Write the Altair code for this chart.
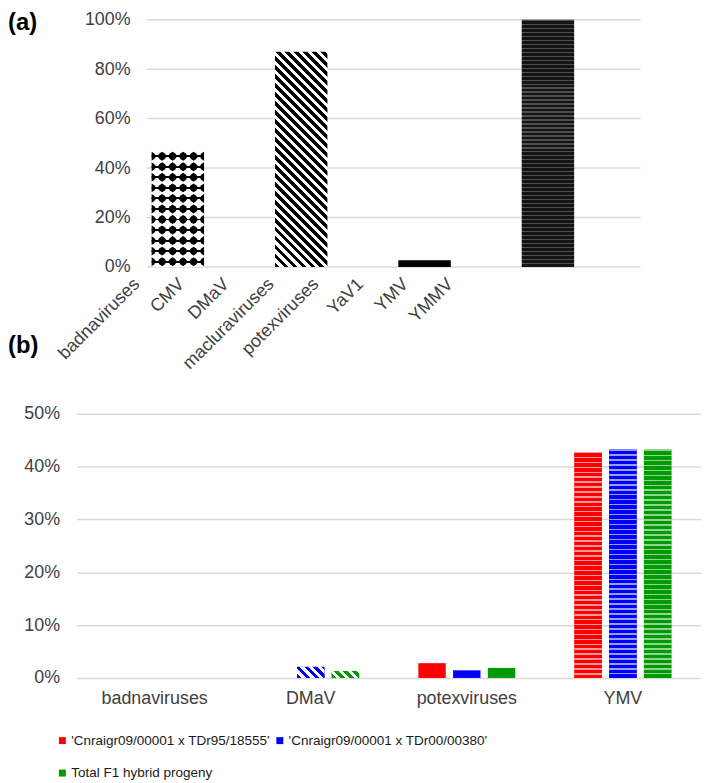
import math
import altair as alt
import pandas as pd

# ---------------- data ----------------
cats_a = ["badnaviruses", "CMV", "DMaV", "macluraviruses", "potexviruses", "YaV1", "YMV", "YMMV"]
pct_a = [46.9, 0, 87.0, 0, 2.7, 0, 100.0, 0]
ticks_a = [0, 20, 40, 60, 80, 100]

cats_b = ["badnaviruses", "DMaV", "potexviruses", "YMV"]
series_b = ["'Cnraigr09/00001 x TDr95/18555'", "'Cnraigr09/00001 x TDr00/00380'", "Total F1 hybrid progeny"]
vals_b_s1 = [0, 0, 2.8, 42.8]
vals_b_s2 = [0, 2.1, 1.45, 43.3]
vals_b_s3 = [0, 1.3, 1.9, 43.2]
colors_b = ["#ff0000", "#0000ff", "#009900"]
ticks_b = [0, 10, 20, 30, 40, 50]

# ---------------- layout / style ----------------
FONT = "Liberation Sans"
TXT = "#404040"
GRID = "#d9d9d9"
A_W, A_H = 568, 249          # panel (a) view, shares its left edge with panel (b)
A_X0, A_X1 = 71, 568         # pixel range of the (a) bars inside that view
A_LAB = [31.45, 392.25]      # pixel range of the (a) category labels
B_W, B_H = 629, 266
A_PI, A_PO = 0.15, 0.075
B_PI, B_PO = 0.379, 0.19
B_OFF_PI = 0.211

a_bw = (A_X1 - A_X0) / (len(cats_a) - A_PI + 2 * A_PO) * (1 - A_PI)
b_step = B_W / (len(cats_b) - B_PI + 2 * B_PO)
b_group = b_step * (1 - B_PI)
b_bw = b_group / (len(series_b) - B_OFF_PI) * (1 - B_OFF_PI)
a_ppu = A_H / 100.0
b_ppu = B_H / 50.0


def rnd(v):
    return round(min(max(v, 0.0), 1.0), 5)


def diag_stripes(c1, c2, w, h, period=6.4, frac=0.5):
    t = (w + h) / (w * w + h * h)
    n = (w + h) / math.sqrt(2) / period
    stops = []
    k = 0
    while k < n:
        o0, o1, o2 = k / n, (k + frac) / n, (k + 1) / n
        stops += [(c1, o0), (c1, o1), (c2, o1), (c2, o2)]
        k += 1
    return {"gradient": "linear", "x1": 0, "y1": 1, "x2": t * w, "y2": 1 - t * h,
            "stops": [{"color": c, "offset": rnd(o)} for c, o in stops]}


def hstripes(base, line, n, frac, centered=False):
    stops = []
    for k in range(n):
        if centered:
            a, b = (k + 0.5 - frac / 2) / n, (k + 0.5 + frac / 2) / n
        else:
            a, b = k / n, (k + frac) / n
        stops += [(base, k / n), (base, a), (line, a), (line, b), (base, b), (base, (k + 1) / n)]
    return {"gradient": "linear", "x1": 0, "y1": 0, "x2": 0, "y2": 1,
            "stops": [{"color": c, "offset": rnd(o)} for c, o in stops]}


# ---------------- panel (a) ----------------
df_a = pd.DataFrame({"cat": cats_a, "pct": pct_a})

xa = alt.X("cat:N", sort=cats_a, title=None, axis=None,
           scale=alt.Scale(domain=cats_a, range=[A_X0, A_X1], paddingInner=A_PI, paddingOuter=A_PO))
ya = alt.Y("pct:Q", title=None, scale=alt.Scale(domain=[0, 100]),
           axis=alt.Axis(values=ticks_a, labelExpr="datum.value + '%'", offset=-A_X0,
                         domain=False, ticks=False, grid=False,
                         labelFontSize=18, labelFont=FONT, labelColor=TXT, labelPadding=17))

grid_a = alt.Chart(pd.DataFrame({"pct": ticks_a})).mark_rule(color=GRID, strokeWidth=1.5).encode(
    y=ya, x=alt.value(A_X0), x2=alt.value(A_X1))

fills_a = {
    "badnaviruses": hstripes("#ffffff", "#000000", 11, 0.18, centered=True),
    "DMaV": diag_stripes("#000000", "#ffffff", a_bw, pct_a[2] * a_ppu),
    "potexviruses": "#000000",
    "YMV": hstripes("#141414", "#4e4e4e", int(round(pct_a[6] * a_ppu / 4.0)), 0.3),
}
bar_layers = []
for c, f in fills_a.items():
    bar_layers.append(
        alt.Chart(df_a[df_a["cat"] == c]).mark_bar(fill=f, strokeWidth=0).encode(x=xa, y=ya)
    )

# dot grid of the badnaviruses pattern (6 columns, the outer two cut in half by the bar edges)
n_rows = 11
v_bad = pct_a[0]
df_rows = pd.DataFrame({"cat": ["badnaviruses"] * n_rows,
                        "pct": [v_bad * (r + 0.5) / n_rows for r in range(n_rows)]})
SHAPE_FULL = "M0,-1L0.6,-0.6L1,0L0.6,0.6L0,1L-0.6,0.6L-1,0L-0.6,-0.6Z"
SHAPE_RIGHT = "M0,-1L0.6,-0.6L1,0L0.6,0.6L0,1Z"
SHAPE_LEFT = "M0,-1L-0.6,-0.6L-1,0L-0.6,0.6L0,1Z"
dot_layers = []
for col in range(6):
    shp = SHAPE_RIGHT if col == 0 else (SHAPE_LEFT if col == 5 else SHAPE_FULL)
    dot_layers.append(
        alt.Chart(df_rows).mark_point(filled=True, opacity=1, size=81, strokeWidth=0, color="#000000",
                                      shape=shp, xOffset=(col / 5.0 - 0.5) * a_bw).encode(x=xa, y=ya)
    )

lab_a = alt.Chart(pd.DataFrame({"t": ["(a)"]})).mark_text(
    align="left", baseline="middle", fontSize=24, fontWeight="bold", font=FONT, color="#000000"
).encode(x=alt.value(-69), y=alt.value(3), text="t:N")
lab_b = alt.Chart(pd.DataFrame({"t": ["(b)"]})).mark_text(
    align="left", baseline="middle", fontSize=24, fontWeight="bold", font=FONT, color="#000000"
).encode(x=alt.value(-69), y=alt.value(329), text="t:N")

inner_a = alt.layer(grid_a, *bar_layers, *dot_layers, lab_a, lab_b)

label_axis = alt.Chart(df_a).mark_point(opacity=0).encode(
    x=alt.X("cat:N", sort=cats_a, title=None,
            scale=alt.Scale(domain=cats_a, range=A_LAB, paddingInner=0, paddingOuter=0),
            axis=alt.Axis(orient="bottom", labelAngle=-45, labelFontSize=18, labelFont=FONT,
                          labelColor=TXT, domain=False, ticks=False, grid=False,
                          labelPadding=8, labelOverlap=False, labelBound=False, labelLimit=0)),
    y=alt.value(0),
)

panel_a = alt.layer(inner_a, label_axis).resolve_scale(x="independent").properties(width=A_W, height=A_H)

# ---------------- panel (b) ----------------
recs = []
for i, c in enumerate(cats_b):
    for s, vals in zip(series_b, [vals_b_s1, vals_b_s2, vals_b_s3]):
        recs.append({"cat": c, "series": s, "value": vals[i]})
df_b = pd.DataFrame(recs)
df_b_nz = df_b[df_b["value"] > 0]

xb = alt.X("cat:N", sort=cats_b, title=None,
           scale=alt.Scale(domain=cats_b, paddingInner=B_PI, paddingOuter=B_PO),
           axis=alt.Axis(labelAngle=0, labelFontSize=18, labelFont=FONT, labelColor=TXT,
                         domain=False, ticks=False, labelPadding=12))
xob = alt.XOffset("series:N", sort=series_b,
                  scale=alt.Scale(domain=series_b, paddingInner=B_OFF_PI, paddingOuter=0))
yb = alt.Y("value:Q", title=None, scale=alt.Scale(domain=[0, 50]),
           axis=alt.Axis(values=ticks_b, labelExpr="datum.value + '%'",
                         domain=False, ticks=False, grid=True, gridColor=GRID, gridWidth=1.5,
                         labelFontSize=18, labelFont=FONT, labelColor=TXT, labelPadding=17))

base_b = alt.Chart(df_b_nz).mark_bar(strokeWidth=0).encode(
    x=xb, xOffset=xob, y=yb,
    color=alt.Color("series:N", sort=series_b,
                    scale=alt.Scale(domain=series_b, range=colors_b),
                    legend=alt.Legend(title=None, orient="none", legendX=-21, legendY=719,
                                      direction="horizontal", columns=2, symbolType="square",
                                      symbolSize=49, symbolStrokeWidth=0, labelFontSize=13.6,
                                      labelFont=FONT, labelColor="#1a1a1a", columnPadding=3,
                                      rowPadding=18, labelOffset=2, labelLimit=400, padding=0)),
)

light = {"#ff0000": "#ff9a9a", "#0000ff": "#9a9aff", "#009900": "#8fd48f"}
over_layers = []
for s, col in zip(series_b, colors_b):
    for c in ["DMaV", "YMV"]:
        sub = df_b_nz[(df_b_nz["cat"] == c) & (df_b_nz["series"] == s)]
        if len(sub) == 0:
            continue
        v = float(sub["value"].iloc[0])
        if c == "DMaV":
            f = diag_stripes(col, "#ffffff", b_bw, v * b_ppu)
        else:
            f = hstripes(col, light[col], int(round(v * b_ppu / 5.0)), 0.3)
        over_layers.append(alt.Chart(sub).mark_bar(fill=f, strokeWidth=0).encode(x=xb, xOffset=xob, y=yb))

panel_b = alt.layer(base_b, *over_layers).properties(width=B_W, height=B_H)

chart = (
    alt.vconcat(panel_a, panel_b, spacing=32)
    .properties(padding=0)
    .configure_view(stroke=None)
)

chart.save("out.html", embed_options={"renderer": "svg", "actions": False})
